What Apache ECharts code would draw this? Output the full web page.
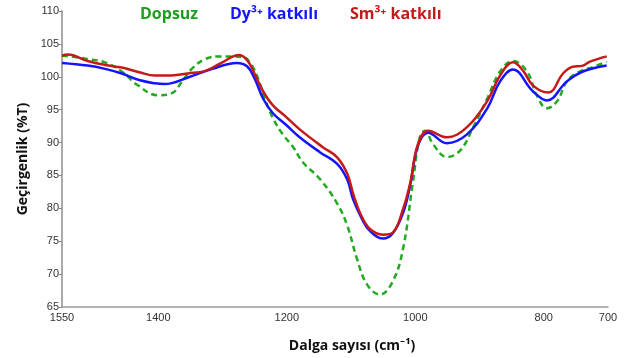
<!DOCTYPE html>
<html>
<head>
<meta charset="utf-8">
<script src="https://cdn.jsdelivr.net/npm/echarts@6/dist/echarts.min.js"></script>
<style>html,body{margin:0;padding:0;background:#fff}#c{width:629px;height:358px}</style>
</head>
<body>
<div id="c"></div>
<script>
// Wavenumbers (cm-1) and transmittance (%T)
const dopsuzWn = [1550,1522,1510,1483,1457,1432,1401,1379,1363,1348,1327,1304,1268,1255,1245,1235,1222,1206,1190,1175,1148,1122,1106,1091,1075,1055,1035,1019,1004,993,985,972,951,930,910,888,868,848,826,811,795,779,764,744,723,702];
const dopsuzT  = [103.2,102.9,102.7,102.2,100.8,98.7,97.2,97.5,99.3,101.2,102.7,103.1,103.0,101.8,99.8,96.9,93.8,91.2,89.3,87.0,84.4,80.8,77.4,72.4,68.4,66.9,68.9,73.9,83.8,90.8,91.8,89.7,87.8,88.8,92.3,96.7,100.8,102.4,100.8,97.2,95.2,96.3,99.3,100.8,101.5,102.3];

const dyWn = [1550,1510,1483,1457,1430,1405,1390,1354,1316,1278,1262,1250,1237,1222,1200,1180,1148,1122,1106,1097,1083,1071,1050,1035,1019,1008,996,980,951,920,888,868,848,817,795,764,739,702];
const dyT  = [102.1,101.7,101.2,100.5,99.5,99.0,98.9,99.9,101.2,102.1,101.6,99.7,96.7,94.5,92.6,90.8,88.5,86.8,84.4,81.4,78.4,76.6,75.4,76.2,79.3,83.5,89.5,91.5,89.9,91.2,95.2,99.3,101.1,97.8,96.4,99.3,100.8,101.7];

const smWn = [1550,1541,1510,1483,1457,1430,1405,1380,1354,1327,1304,1274,1260,1248,1237,1222,1200,1180,1144,1122,1106,1097,1086,1071,1050,1035,1019,1008,996,980,951,920,888,868,848,832,817,793,770,756,739,728,702];
const smT  = [103.2,103.4,102.4,101.8,101.4,100.7,100.2,100.2,100.5,100.9,102.0,103.3,102.3,100.0,97.8,95.7,93.8,92.0,89.3,87.8,85.3,82.3,79.3,76.9,76.0,76.3,79.9,83.8,89.7,91.8,90.8,92.3,96.3,100.2,102.2,100.9,98.7,97.6,100.5,101.5,101.7,102.3,103.1];

const xTicks = [1550,1400,1200,1000,800,700];
const seriesNames = ['Dopsuz','Dy³⁺ katkılı','Sm³⁺ katkılı'];

const zip = (a,b) => a.map((v,i)=>[v,b[i]]);
const chart = echarts.init(document.getElementById('c'));
const labelFont = 'Liberation Sans, Arial, sans-serif';
const titleFont = 'Open Sans, Noto Sans, sans-serif';
chart.setOption({
  animation:false,
  grid:{left:62,right:21,top:11,bottom:44},
  xAxis:{
    type:'value',min:700,max:1550,inverse:true,
    name:'Dalga sayısı (cm⁻¹)',nameLocation:'middle',nameGap:32,
    nameTextStyle:{fontFamily:titleFont,fontWeight:'bold',fontSize:14,color:'#111',padding:[0,0,0,34]},
    axisLine:{lineStyle:{color:'#9a9a9a',width:1.5}},
    axisTick:{show:false},
    splitLine:{show:false},
    axisLabel:{customValues:xTicks,formatter:v=>String(v),color:'#333',fontSize:11,fontFamily:labelFont,margin:5}
  },
  yAxis:{
    type:'value',min:65,max:110,interval:5,
    name:'Geçirgenlik (%T)',nameLocation:'middle',nameGap:32,
    nameTextStyle:{fontFamily:titleFont,fontWeight:'bold',fontSize:14,color:'#111'},
    axisLine:{show:true,lineStyle:{color:'#aaaaaa',width:2}},
    axisTick:{show:true,length:3,lineStyle:{color:'#888'}},
    splitLine:{show:false},
    axisLabel:{color:'#333',fontSize:11,fontFamily:labelFont,margin:3}
  },
  series:[
    {name:seriesNames[0],type:'line',data:zip(dopsuzWn,dopsuzT),smooth:0.4,symbol:'none',
     lineStyle:{color:'#22aa22',width:2.5,type:[6,4]}},
    {name:seriesNames[1],type:'line',data:zip(dyWn,dyT),smooth:0.4,symbol:'none',
     lineStyle:{color:'#1414ff',width:2.5}},
    {name:seriesNames[2],type:'line',data:zip(smWn,smT),smooth:0.4,symbol:'none',
     lineStyle:{color:'#c41a1a',width:2.5}}
  ],
  graphic:[
    {type:'text',left:140,top:6,style:{text:seriesNames[0],fill:'#1e9e1e',font:'bold 16px Open Sans, Noto Sans, sans-serif'}},
    {type:'text',left:230,top:6,style:{text:seriesNames[1],fill:'#1414ff',font:'bold 16px Open Sans, Noto Sans, sans-serif'}},
    {type:'text',left:350,top:6,style:{text:seriesNames[2],fill:'#c41a1a',font:'bold 16px Open Sans, Noto Sans, sans-serif'}}
  ]
});
</script>
</body>
</html>
